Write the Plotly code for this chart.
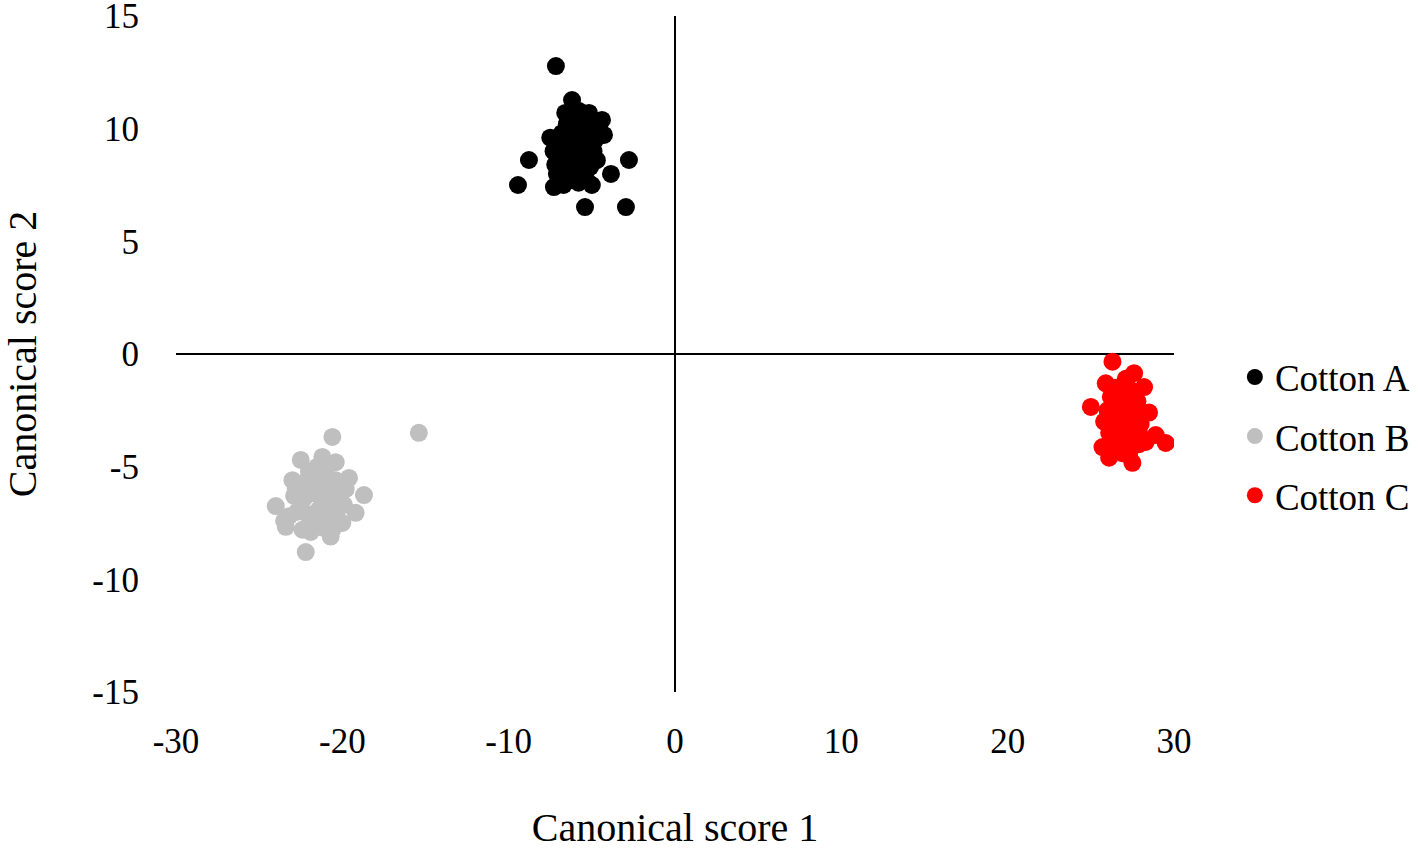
import plotly.graph_objects as go

# Cotton A
a_x = [-7.16, -6.19, -8.78, -9.44, -2.77, -3.85, -5.41, -2.95, -7.28, -4.39, -4.27, -5.17,
       -6.5, -6.0, -5.5, -6.8, -6.2, -5.6, -5.0, -4.6, -7.0, -6.5, -5.9, -5.3, -4.8, -7.3,
       -6.9, -6.3, -5.7, -5.2, -7.2, -6.6, -6.0, -5.5, -5.1, -7.0, -6.4, -5.8, -5.3, -6.7,
       -6.1, -7.5, -6.6, -5.8, -4.9, -5.0, -4.7, -6.3, -5.9, -7.1]
a_y = [12.78, 11.27, 8.61, 7.50, 8.61, 7.99, 6.52, 6.52, 7.41, 10.39, 9.72, 10.70,
       10.2, 10.5, 10.3, 9.8, 9.6, 9.9, 10.0, 10.1, 9.3, 9.2, 9.1, 9.4, 9.5, 9.0,
       8.7, 8.8, 8.6, 8.9, 8.4, 8.2, 8.3, 8.0, 8.3, 7.8, 7.7, 7.6, 7.7, 7.5,
       7.9, 9.6, 10.7, 10.8, 9.0, 7.5, 8.6, 9.9, 9.5, 8.0]

# Cotton B
b_x = [-20.6, -15.4, -24.0, -22.2, -18.7, -22.5, -21.2, -23.4, -20.7, -19.6, -19.2, -23.0,
       -22.0, -21.5, -21.0, -20.4, -22.6, -21.8, -21.3, -20.8, -20.2, -22.9, -22.3, -21.6,
       -21.1, -20.5, -19.9, -22.7, -22.1, -21.4, -20.9, -20.3, -23.2, -21.7, -20.0, -22.4,
       -21.9, -21.2, -20.6, -22.8, -21.0, -19.8, -23.5, -22.0, -20.4]
b_y = [-3.68, -3.50, -6.75, -8.79, -6.26, -4.70, -4.57, -7.67, -8.10, -5.50, -7.05, -5.60,
       -5.2, -5.0, -5.3, -5.6, -5.9, -5.8, -5.7, -6.0, -6.1, -6.3, -6.4, -6.2,
       -6.5, -6.6, -6.7, -7.0, -7.1, -6.9, -7.2, -7.3, -7.2, -7.6, -7.5, -7.8,
       -7.9, -7.7, -7.8, -6.0, -4.9, -6.0, -7.4, -5.4, -4.8]

# Cotton C
c_x = [26.3, 27.6, 25.0, 29.5, 27.5, 25.7, 26.1, 25.9, 28.2, 28.9, 28.5,
       26.5, 27.0, 27.4, 26.2, 26.8, 27.3, 27.8, 26.0, 26.6, 27.1, 27.7, 26.4, 26.9,
       27.5, 28.0, 26.2, 26.7, 27.2, 27.9, 26.5, 27.0, 27.6, 28.3, 26.3, 26.8, 27.4,
       25.8, 28.1, 26.9, 27.3, 26.6, 27.9, 26.1, 27.1]
c_y = [-0.34, -0.85, -2.35, -3.95, -4.83, -4.13, -4.60, -1.30, -1.47, -3.60, -2.60,
       -1.5, -1.4, -1.6, -1.9, -2.0, -1.8, -2.1, -2.5, -2.4, -2.6, -2.3, -2.9, -3.0,
       -2.8, -3.1, -3.3, -3.4, -3.2, -3.5, -3.7, -3.8, -3.6, -3.9, -4.0, -4.1, -4.2,
       -3.0, -2.7, -4.4, -4.5, -4.3, -4.0, -3.5, -1.1]

x_ticks = [-30, -20, -10, 0, 10, 20, 30]
x_labels = ["-30", "-20", "-10", "0", "10", "20", "30"]
y_ticks = [-15, -10, -5, 0, 5, 10, 15]
y_labels = ["-15", "-10", "-5", "0", "5", "10", "15"]

series = [
    ("Cotton A", a_x, a_y, "#000000"),
    ("Cotton B", b_x, b_y, "#bfbfbf"),
    ("Cotton C", c_x, c_y, "#ff0000"),
]

font_family = "Liberation Serif, Times New Roman, serif"

fig = go.Figure()
for name, xs, ys, col in series:
    fig.add_trace(go.Scatter(
        x=xs, y=ys, mode="markers", name=name, legendgroup=name,
        marker=dict(color=col, size=18, line=dict(width=0)),
    ))

fig.update_layout(
    width=1418, height=850,
    margin=dict(l=176, r=244, t=16, b=158, autoexpand=False),
    paper_bgcolor="white", plot_bgcolor="white",
    font=dict(family=font_family, size=33, color="#000000"),
    showlegend=True,
    legend=dict(x=1.061, y=0.378, xanchor="left", yanchor="middle",
                font=dict(size=37), tracegroupgap=8, itemsizing="trace",
                bgcolor="rgba(0,0,0,0)"),
    xaxis=dict(range=[-30, 30], tickvals=x_ticks, ticktext=x_labels,
               tickfont=dict(size=35), ticklabeloverflow="allow",
               showgrid=False, showline=False, zeroline=True, automargin=False,
               zerolinecolor="#000000", zerolinewidth=2,
               ticks="outside", ticklen=18, tickcolor="rgba(0,0,0,0)",
               title=dict(text="Canonical score 1", standoff=62)),
    yaxis=dict(range=[-15, 15], tickvals=y_ticks, ticktext=y_labels,
               tickfont=dict(size=35), ticklabeloverflow="allow",
               showgrid=False, showline=False, zeroline=True, automargin=False,
               zerolinecolor="#000000", zerolinewidth=2,
               ticks="outside", ticklen=29, tickcolor="rgba(0,0,0,0)",
               title=dict(text="Canonical score 2", standoff=46)),
)

fig.write_html("out.html", config={"displayModeBar": False},
               post_script="document.body.style.margin='0';")
